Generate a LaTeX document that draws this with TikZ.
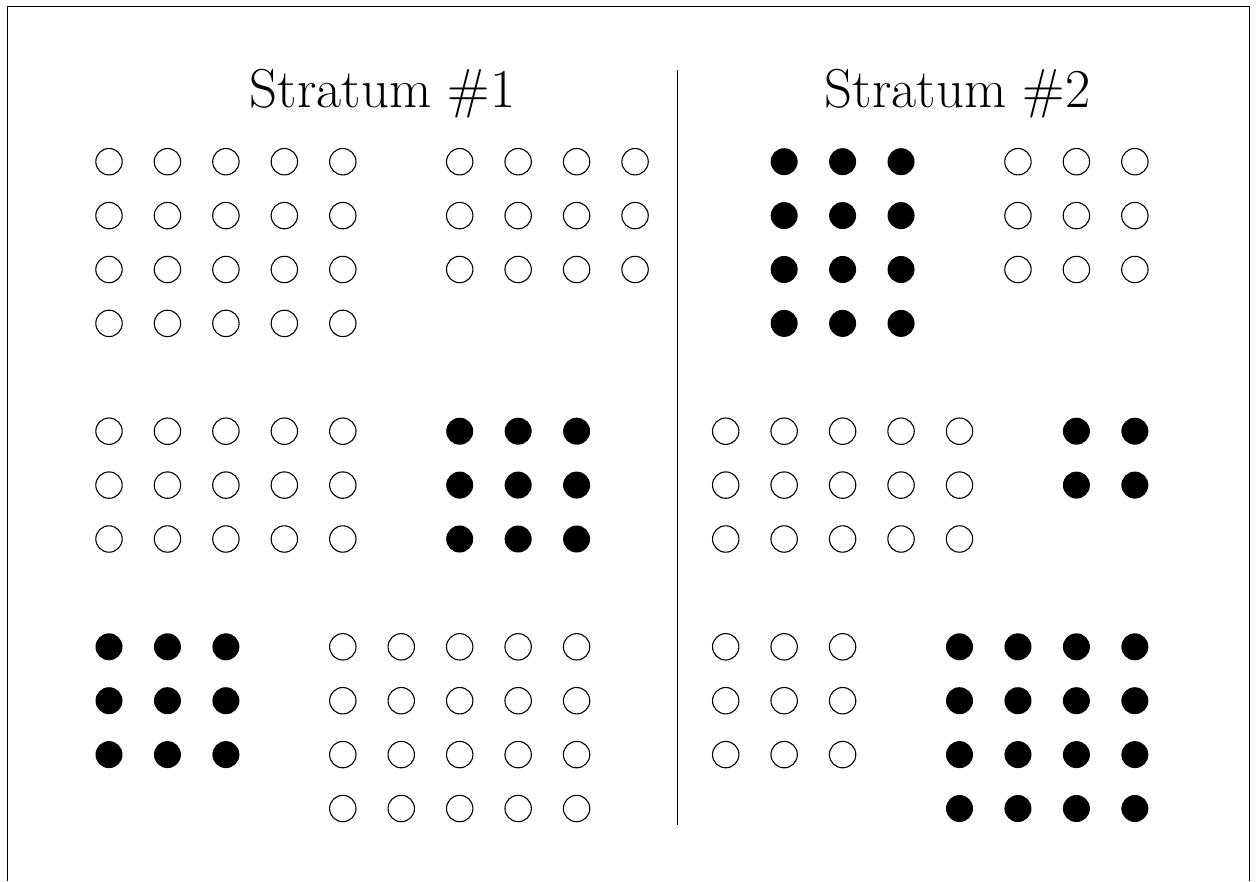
\documentclass[tikz,border=0pt]{standalone}
\tikzset{
  opendot/.style={circle, draw=black, line width=1.1pt, minimum size=26.4pt, inner sep=0pt},
  filldot/.style={circle, fill=black, draw=none, minimum size=27pt, inner sep=0pt},
  titletext/.style={font=\fontsize{54.8}{60}\selectfont, anchor=base, inner sep=0pt},
  framestyle/.style={line width=1pt, black},
  divstyle/.style={line width=0.6pt, black}
}
% #1 name, #2 style, #3 x origin, #4 first col, #5 last col, #6 first row, #7 last row
\newcommand\dotgroup[7]{%
  \foreach \c in {#4,...,#5}{%
    \foreach \r in {#6,...,#7}{%
      \node[#2] (#1-\c-\r) at ({#3+58.45*\c},{161.7+53.9*\r}) {};
    }%
  }%
}
\begin{document}
\begin{tikzpicture}[x=1pt,y=-1pt]
  \useasboundingbox (0,0) rectangle (1258,881);
  % frame (open at the bottom)
  \coordinate (fbl) at (7.7,881);
  \coordinate (ftl) at (7.7,6.7);
  \coordinate (ftr) at (1249.7,6.7);
  \coordinate (fbr) at (1249.7,881);
  \draw[framestyle] (fbl) -- (ftl) -- (ftr) -- (fbr);
  % divider
  \coordinate (divtop) at (677.7,69.5);
  \coordinate (divbot) at (677.7,825);
  \draw[divstyle] (divtop) -- (divbot);
  % titles
  \node[titletext] (t1) at (382.5,107.7) {Stratum \#1};
  \node[titletext] (t2) at (957.5,107.7) {Stratum \#2};
  % Stratum 1
  \dotgroup{A}{opendot}{109}{0}{4}{0}{3}
  \dotgroup{B}{opendot}{109}{6}{9}{0}{2}
  \dotgroup{C}{opendot}{109}{0}{4}{5}{7}
  \dotgroup{D}{filldot}{109}{6}{8}{5}{7}
  \dotgroup{E}{filldot}{109}{0}{2}{9}{11}
  \dotgroup{F}{opendot}{109}{4}{8}{9}{12}
  % Stratum 2
  \dotgroup{G}{filldot}{725.7}{1}{3}{0}{3}
  \dotgroup{H}{opendot}{725.7}{5}{7}{0}{2}
  \dotgroup{I}{opendot}{725.7}{0}{4}{5}{7}
  \dotgroup{J}{filldot}{725.7}{6}{7}{5}{6}
  \dotgroup{K}{opendot}{725.7}{0}{2}{9}{11}
  \dotgroup{L}{filldot}{725.7}{4}{7}{9}{12}
\end{tikzpicture}
\end{document}
